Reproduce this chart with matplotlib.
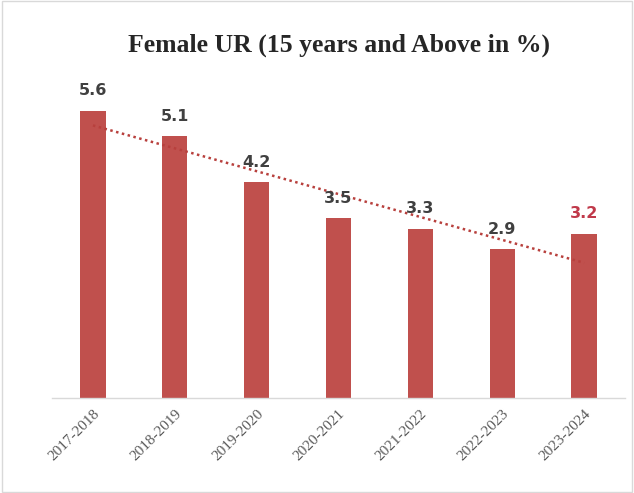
import matplotlib.pyplot as plt
import numpy as np
from matplotlib.patches import Rectangle

years = ["2017-2018", "2018-2019", "2019-2020", "2020-2021", "2021-2022", "2022-2023", "2023-2024"]
values = [5.6, 5.1, 4.2, 3.5, 3.3, 2.9, 3.2]

bar_color = "#C0504D"
label_color = "#404040"

fig = plt.figure(figsize=(6.34, 4.93), dpi=100)
fig.patches.append(Rectangle((0.003, 0.003), 0.994, 0.994, transform=fig.transFigure,
                             fill=False, edgecolor="#D9D9D9", linewidth=1))
ax = fig.add_axes([0.082, 0.193, 0.904, 0.666])

x = np.arange(len(years))
ax.bar(x, values, width=0.31, color=bar_color, zorder=2)

# linear trendline
slope, intercept = np.polyfit(x, values, 1)
ax.plot(x, slope * x + intercept, linestyle=(0, (1, 1.4)), color="#B8403D",
        linewidth=1.8, zorder=3)

for i, v in enumerate(values):
    col = "#C0394A" if i == len(values) - 1 else label_color
    ax.text(i, v + 0.24, f"{v:.1f}", ha="center", va="bottom", fontsize=11.5,
            fontweight="bold", color=col, family="DejaVu Sans")

ax.set_xlim(-0.5, 6.5)
ax.set_ylim(0, 6.4)
ax.set_yticks([])
ax.set_xticks(x)
ax.set_xticklabels(years, rotation=45, ha="right", rotation_mode="anchor",
                   fontsize=11, color="#595959", family="Liberation Serif")
ax.tick_params(axis="x", length=0, pad=7)
for s in ["top", "right", "left"]:
    ax.spines[s].set_visible(False)
ax.spines["bottom"].set_color("#D9D9D9")
ax.spines["bottom"].set_linewidth(1)

fig.text(0.535, 0.908, "Female UR (15 years and Above in %)", ha="center", va="center",
         fontsize=18.5, fontweight="bold", color="#262626", family="Liberation Serif")

fig.savefig("out.png", dpi=100)
